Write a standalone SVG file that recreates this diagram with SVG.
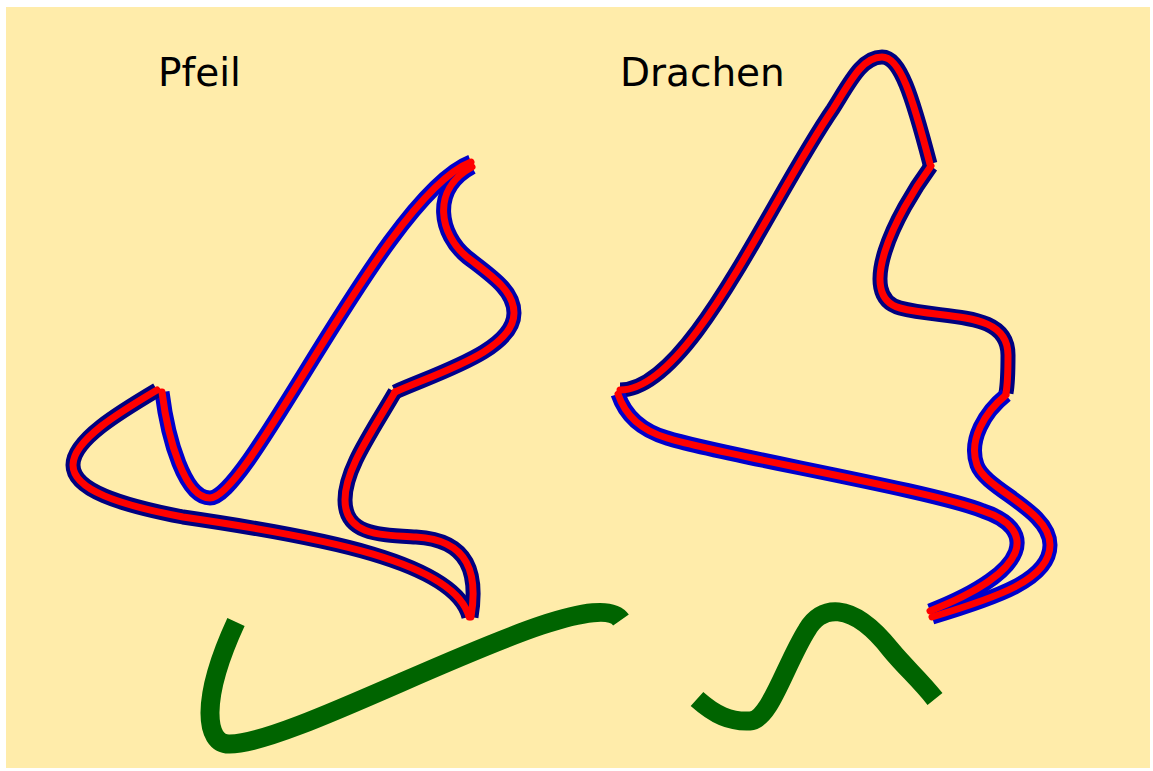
<svg xmlns="http://www.w3.org/2000/svg" width="1153" height="771" viewBox="0 0 1153 771">
<style>
.bg{fill:#ffecaa}
.o{fill:none;stroke-width:15;stroke-linecap:butt;stroke-linejoin:round}
.blue{stroke:#0000cc}
.navy{stroke:#000080}
.r{fill:none;stroke:#ff0000;stroke-width:7;stroke-linecap:round;stroke-linejoin:round}
.g{fill:none;stroke:#006400;stroke-width:19;stroke-linecap:butt}
.t{font-family:"DejaVu Sans",Verdana,sans-serif;font-size:39px;fill:#000}
</style>
<defs>
<linearGradient id="gr4" gradientUnits="userSpaceOnUse" x1="395" y1="392" x2="470" y2="175">
<stop offset="0" stop-color="#000080"/>
<stop offset="1" stop-color="#0000cc"/>
</linearGradient>
</defs>
<rect class="bg" x="6" y="7" width="1144" height="761"/>
<g id="labels">
<text class="t" x="158" y="86">Pfeil</text>
<text class="t" x="620" y="86">Drachen</text>
</g>
<g id="pfeil">
<path id="p1" class="o blue" d="M162,392 C168,440 185,498 210,498 C250,498 385,195 471,162"/>
<path id="p2" class="o navy" d="M157,390 C120,412 73,440 73,465 C73,490 120,505 183,517 C320,537 455,562 469,617"/>
<path id="p3" class="o navy" d="M471,617 C478,575 470,540 416,537 C380,535 345,535 345,500 C345,470 370,435 395,392"/>
<path id="p4" class="o" stroke="url(#gr4)" d="M395,392 C440,372 514,350 514,313 C514,290 490,275 467,257 C440,235 430,190 472,167"/>
<path class="r" d="M162,392 C168,440 185,498 210,498 C250,498 385,195 471,162"/>
<path class="r" d="M157,390 C120,412 73,440 73,465 C73,490 120,505 183,517 C320,537 455,562 469,617"/>
<path class="r" d="M471,617 C478,575 470,540 416,537 C380,535 345,535 345,500 C345,470 370,435 395,392"/>
<path class="r" d="M395,392 C440,372 514,350 514,313 C514,290 490,275 467,257 C440,235 430,190 472,167"/>
</g>
<g id="drachen">
<path id="d1" class="o navy" d="M620,390 C690,390 770,200 833,109 C850,82 862,57 882,57 C900,57 912,95 930,164"/>
<path id="d2" class="o navy" d="M931,166 C895,215 855,296 900,308 C945,320 1008,310 1008,355 C1008,370 1008,382 1006,393"/>
<path id="d3" class="o blue" d="M1006,395 C985,412 968,440 977,465 C986,490 1050,510 1050,545 C1050,580 995,598 932,617"/>
<path id="d4" class="o blue" d="M618,394 C625,415 640,430 667,438 C720,455 930,490 983,511 C1035,528 1035,570 930,611"/>
<path class="r" d="M620,390 C690,390 770,200 833,109 C850,82 862,57 882,57 C900,57 912,95 930,164"/>
<path class="r" d="M931,166 C895,215 855,296 900,308 C945,320 1008,310 1008,355 C1008,370 1008,382 1006,393"/>
<path class="r" d="M1006,395 C985,412 968,440 977,465 C986,490 1050,510 1050,545 C1050,580 995,598 932,617"/>
<path class="r" d="M618,394 C625,415 640,430 667,438 C720,455 930,490 983,511 C1035,528 1035,570 930,611"/>
</g>
<g id="kanten">
<path id="kanteA" class="g" d="M236,622 C200,700 205,744 229,744 C300,745 590,575 621,620"/>
<path id="kanteB" class="g" d="M697,699 C715,715 730,722 750,721 C770,720 785,665 807,630 C820,607 850,598 891,650 C905,667 920,680 935,699"/>
</g>
</svg>
